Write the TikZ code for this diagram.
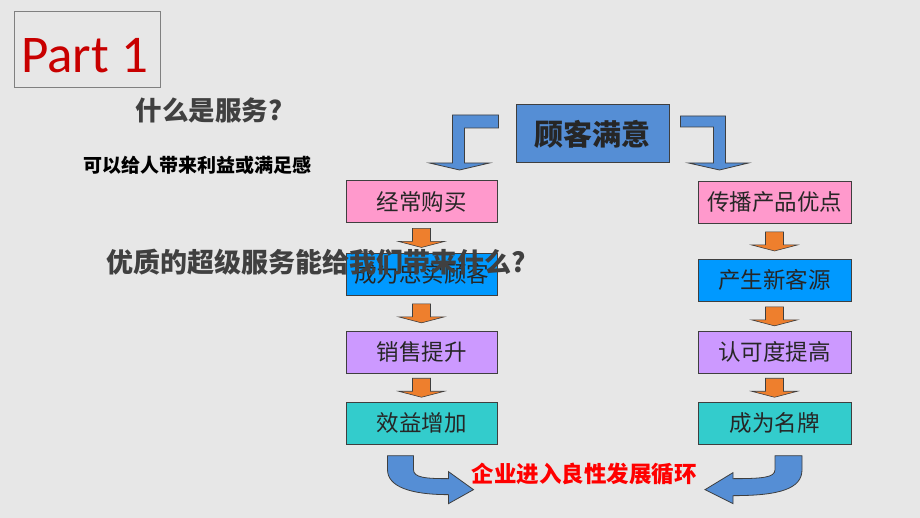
\documentclass[tikz,border=0pt]{standalone}
\usepackage{fontspec}
\setmainfont{Noto Sans CJK SC}
\newfontfamily\partfont{Carlito}
\usetikzlibrary{positioning,calc}

\definecolor{bggray}{HTML}{E7E7E7}
\definecolor{darktext}{HTML}{404040}
\definecolor{boxtext}{HTML}{262626}
\definecolor{boxline}{HTML}{3F3F3F}
\definecolor{satblue}{HTML}{558ED5}
\definecolor{pinkfill}{HTML}{FF99CC}
\definecolor{bluefill}{HTML}{0099FF}
\definecolor{lilacfill}{HTML}{CC99FF}
\definecolor{tealfill}{HTML}{33CCCC}
\definecolor{orangefill}{HTML}{EE7F2D}
\definecolor{partred}{HTML}{C80000}

\tikzset{
  box/.style={draw=boxline,line width=0.9pt,minimum width=151pt,minimum height=42pt,
    inner sep=0pt,text=boxtext,font=\fontsize{22.5}{24}\selectfont},
  bluearrow/.style={fill=satblue,draw=boxline,line width=0.8pt,line join=miter},
  orangearrow/.style={fill=orangefill,draw=boxline,line width=0.6pt},
  headline/.style={text=darktext,font=\bfseries\fontsize{#1}{#1}\selectfont}
}

\begin{document}
\begin{tikzpicture}[x=1pt,y=-1pt]
\fill[bggray] (0,0) rectangle (920,518);
\useasboundingbox (0,0) rectangle (920,518);

% title block
\draw[gray,line width=1pt] (14,12) rectangle (160,88);
\node[anchor=base west,inner sep=0pt,text=partred,font=\partfont\fontsize{53}{53}\selectfont] (part) at (21,73) {Part 1};
\node[headline=26.5] (what) at (209,110) {什么是服务?};
\node[text=black,font=\bfseries\fontsize{19}{19}\selectfont] (answer) at (197,165) {可以给人带来利益或满足感};

% center
\node[draw=boxline,line width=1pt,fill=satblue,minimum width=153pt,minimum height=58pt,
  text=boxtext,font=\bfseries\fontsize{29}{29}\selectfont] (sat) at (592.5,134) {顾客满意};

% left column
\node[box,fill=pinkfill] (buy) at (421.5,201.5) {经常购买};
\node[box,fill=bluefill,below=30pt of buy] (loyal) {成为忠实顾客};
\node[box,fill=lilacfill,below=35pt of loyal] (sales) {销售提升};
\node[box,fill=tealfill,below=28pt of sales] (gain) {效益增加};

% right column
\node[box,fill=pinkfill,minimum width=153pt] (spread) at (774.5,202.5) {传播产品优点};
\node[box,fill=bluefill,minimum width=153pt,below=35pt of spread] (newc) {产生新客源};
\node[box,fill=lilacfill,minimum width=153pt,below=29pt of newc] (recog) {认可度提高};
\node[box,fill=tealfill,minimum width=153pt,below=28pt of recog] (brand) {成为名牌};

% bent arrows from the top box
\draw[bluearrow] ($(sat.west)+(-17,-19)$) -- ++(-46,0) -- ++(0,48) -- ++(-23,0)
  -- ++(30,7) -- ++(30,-7) -- ++(-25,0) -- ++(0,-35) -- ++(34,0) -- cycle;
\draw[bluearrow] ($(sat.east)+(11,-18)$) -- ++(45,0) -- ++(0,47) -- ++(23,0)
  -- ++(-29,7) -- ++(-31,-7) -- ++(25,0) -- ++(0,-36) -- ++(-33,0) -- cycle;

% small arrows between the boxes
\foreach \a/\b in {buy/loyal,loyal/sales,sales/gain,spread/newc,newc/recog,recog/brand}{
  \coordinate (m) at ($(\a.south)!0.5!(\b.north)$);
  \draw[orangearrow] ($(m)+(-9,-9.5)$) -- ++(18,0) -- ++(0,13) -- ++(14,0)
    -- ++(-23,6) -- ++(-23,-6) -- ++(14,0) -- cycle;
}

% loop
\node[text=red,font=\bfseries\fontsize{22.5}{22.5}\selectfont] (loop) at (584,474) {企业进入良性发展循环};
\coordinate (bl) at ($(gain.south)+(-34,11)$);
\coordinate (br) at ($(brand.south)+(0.5,11)$);
\begin{scope}[shift={(bl)}]
\draw[bluearrow] (0,0) -- (26,0) -- (26,14) .. controls (26,22) and (38,23) .. (61,23)
  -- (61,16) -- (86,34) -- (61,48) -- (61,39) .. controls (23,39) and (0,31) .. (0,14) -- cycle;
\end{scope}
\begin{scope}[shift={(br)}]
\draw[bluearrow] (0,0) -- (27,0) -- (27,14) .. controls (27,33) and (5,40) .. (-42,40)
  -- (-42,48) -- (-70,34) -- (-42,17) -- (-42,23) .. controls (-13,23) and (0,22) .. (0,14) -- cycle;
\end{scope}

% question over the column
\node[headline=27] (ask) at (316.5,262) {优质的超级服务能给我们带来什么?};
\end{tikzpicture}
\end{document}
